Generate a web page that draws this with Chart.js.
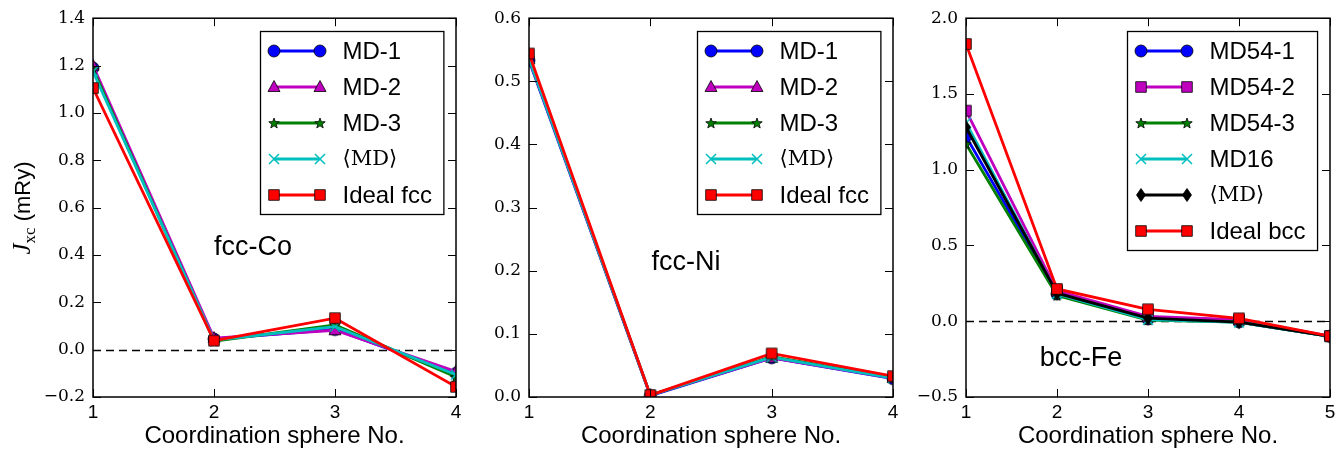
<!DOCTYPE html>
<html><head><meta charset="utf-8">
<script src="https://cdn.jsdelivr.net/npm/chart.js@4/dist/chart.umd.min.js"></script>
<style>
html,body{margin:0;padding:0;background:#fff;}
body{width:1341px;height:453px;position:relative;overflow:hidden;}
canvas{position:absolute;top:0;}
</style></head><body>
<canvas id="c1" width="470" height="453" style="left:0px;width:470px;height:453px"></canvas>
<canvas id="c2" width="450" height="453" style="left:460px;width:450px;height:453px"></canvas>
<canvas id="c3" width="441" height="453" style="left:900px;width:441px;height:453px"></canvas>
<script>
// ---------------- data ----------------
const spheresFcc = [1, 2, 3, 4];
const spheresBcc = [1, 2, 3, 4, 5];

const coMD1   = [1.190, 0.045, 0.085, -0.100];
const coMD2   = [1.200, 0.049, 0.082, -0.092];
const coMD3   = [1.185, 0.036, 0.104, -0.115];
const coMDavg = [1.175, 0.040, 0.097, -0.106];
const coIdeal = [1.105, 0.038, 0.133, -0.157];

const niMD1   = [0.533, 0.002, 0.062, 0.029];
const niMD2   = [0.535, 0.003, 0.062, 0.030];
const niMD3   = [0.537, 0.003, 0.064, 0.031];
const niMDavg = [0.536, 0.003, 0.063, 0.030];
const niIdeal = [0.544, 0.003, 0.069, 0.033];

const feMD54_1 = [1.220, 0.180, 0.015, -0.005, -0.100];
const feMD54_2 = [1.390, 0.200, 0.032, 0.010, -0.098];
const feMD54_3 = [1.170, 0.170, 0.008, -0.005, -0.100];
const feMD16   = [1.310, 0.180, 0.010, -0.008, -0.100];
const feMDavg  = [1.280, 0.185, 0.020, -0.006, -0.100];
const feIdeal  = [1.830, 0.213, 0.079, 0.019, -0.098];

const labelsFcc = ['MD-1', 'MD-2', 'MD-3', '\u27E8MD\u27E9', 'Ideal fcc'];
const labelsBcc = ['MD54-1', 'MD54-2', 'MD54-3', 'MD16', '\u27E8MD\u27E9', 'Ideal bcc'];

const xTicksFcc = [1, 2, 3, 4];
const xTicksBcc = [1, 2, 3, 4, 5];
const xTickLabelsFcc = ['1', '2', '3', '4'];
const xTickLabelsBcc = ['1', '2', '3', '4', '5'];

const yTicksCo = [-0.2, 0.0, 0.2, 0.4, 0.6, 0.8, 1.0, 1.2, 1.4];
const yTickLabelsCo = ['\u22120.2', '0.0', '0.2', '0.4', '0.6', '0.8', '1.0', '1.2', '1.4'];
const yTicksNi = [0.0, 0.1, 0.2, 0.3, 0.4, 0.5, 0.6];
const yTickLabelsNi = ['0.0', '0.1', '0.2', '0.3', '0.4', '0.5', '0.6'];
const yTicksFe = [-0.5, 0.0, 0.5, 1.0, 1.5, 2.0];
const yTickLabelsFe = ['\u22120.5', '0.0', '0.5', '1.0', '1.5', '2.0'];

const xTitle = 'Coordination sphere No.';

// ---------------- styles ----------------
const SANS = '"Liberation Sans", Arial, Helvetica, sans-serif';
const SERIF_TICK = '"DejaVu Serif", serif';
const C = {b:'#0000ff', m:'#bf00bf', g:'#008000', c:'#00bfbf', r:'#ff0000', k:'#000000'};

function makeMarker(shape, fill) {
  const S = 18, m = S / 2;
  const cv = document.createElement('canvas'); cv.width = S; cv.height = S;
  const g = cv.getContext('2d');
  g.fillStyle = fill; g.strokeStyle = '#000'; g.lineWidth = 0.8;
  g.beginPath();
  if (shape === 'circle') g.arc(m, m, 6, 0, 2 * Math.PI);
  else if (shape === 'triangle') { g.moveTo(m, m - 6.5); g.lineTo(m + 6, m + 4.5); g.lineTo(m - 6, m + 4.5); g.closePath(); }
  else if (shape === 'square') g.rect(m - 5.3, m - 5.3, 10.6, 10.6);
  else if (shape === 'diamond') { g.moveTo(m, m - 6.5); g.lineTo(m + 4.5, m); g.lineTo(m, m + 6.5); g.lineTo(m - 4.5, m); g.closePath(); }
  else if (shape === 'star') {
    for (let k = 0; k < 10; k++) {
      const r = k % 2 ? 2.3 : 5.5, a = -Math.PI / 2 + k * Math.PI / 5;
      const px = m + r * Math.cos(a), py = m + 0.5 + r * Math.sin(a);
      if (k) g.lineTo(px, py); else g.moveTo(px, py);
    }
    g.closePath();
  } else if (shape === 'x') {
    g.strokeStyle = fill; g.lineWidth = 1.5;
    g.moveTo(m - 5, m - 5); g.lineTo(m + 5, m + 5); g.moveTo(m + 5, m - 5); g.lineTo(m - 5, m + 5);
    g.stroke(); return cv;
  }
  g.fill(); g.stroke();
  return cv;
}

function series(label, xs, ys, color, shape, idx, n) {
  const img = makeMarker(shape, color);
  return {
    label, data: xs.map((x, i) => ({x, y: ys[i]})),
    borderColor: color, backgroundColor: color, borderWidth: 2.8,
    pointStyle: img, pointRadius: 6, pointHoverRadius: 6, pointBorderWidth: 0,
    tension: 0, fill: false, clip: 0, order: n - 1 - idx, _marker: img
  };
}

function makePlugin(cfg) {
  return {
    id: 'mplDecor',
    beforeDatasetsDraw(chart) {
      if (!cfg.zeroLine) return;
      const ctx = chart.ctx, a = chart.chartArea, y = Math.round(chart.scales.y.getPixelForValue(0)) + 0.5;
      ctx.save(); ctx.strokeStyle = '#000'; ctx.lineWidth = 1.4; ctx.setLineDash([8, 5]);
      ctx.beginPath(); ctx.moveTo(a.left, y); ctx.lineTo(a.right, y); ctx.stroke(); ctx.restore();
    },
    afterDatasetsDraw(chart) {
      const ctx = chart.ctx, a = chart.chartArea, xs = chart.scales.x, ys = chart.scales.y;
      ctx.save();
      ctx.strokeStyle = '#000'; ctx.lineWidth = 1;
      ctx.beginPath();
      xs.ticks.forEach(t => {
        const p = Math.round(xs.getPixelForValue(t.value)) + 0.5;
        ctx.moveTo(p, a.bottom); ctx.lineTo(p, a.bottom - 8);
        ctx.moveTo(p, a.top); ctx.lineTo(p, a.top + 8);
      });
      ys.ticks.forEach(t => {
        const p = Math.round(ys.getPixelForValue(t.value)) + 0.5;
        ctx.moveTo(a.left, p); ctx.lineTo(a.left + 8, p);
        ctx.moveTo(a.right, p); ctx.lineTo(a.right - 8, p);
      });
      ctx.stroke();
      ctx.lineWidth = 1.5;
      ctx.strokeRect(a.left, a.top, a.right - a.left, a.bottom - a.top);
      // annotation
      ctx.fillStyle = '#000'; ctx.font = '27px ' + SANS; ctx.textAlign = 'left'; ctx.textBaseline = 'middle';
      ctx.fillText(cfg.note.text, xs.getPixelForValue(cfg.note.x), ys.getPixelForValue(cfg.note.y));
      ctx.restore();
    },
    afterDraw(chart) {
      const ctx = chart.ctx, a = chart.chartArea, ds = chart.data.datasets;
      ctx.save();
      const fontFor = l => l.startsWith('\u27E8') ? '21px "DejaVu Serif", serif' : '24px ' + SANS;
      let maxW = 0;
      ds.forEach(d => { ctx.font = fontFor(d.label); maxW = Math.max(maxW, ctx.measureText(d.label).width); });
      const w = 82 + maxW + 12, h = 19 + 36 * (ds.length - 1) + 20;
      const left = Math.round(a.right - 12.5 - w) + 0.5, top = Math.round(a.top + 13) + 0.5;
      ctx.fillStyle = '#fff'; ctx.fillRect(left, top, w, h);
      ctx.strokeStyle = '#000'; ctx.lineWidth = 1.3; ctx.strokeRect(left, top, w, h);
      ds.forEach((d, i) => {
        const y = Math.round(top + 19 + 36 * i);
        const x0 = left + 13, x1 = left + 59;
        ctx.strokeStyle = d.borderColor; ctx.lineWidth = d.borderWidth; ctx.setLineDash([]);
        ctx.beginPath(); ctx.moveTo(x0, y); ctx.lineTo(x1, y); ctx.stroke();
        const img = d._marker;
        ctx.drawImage(img, Math.round(x0 - img.width / 2), y - img.height / 2);
        ctx.drawImage(img, Math.round(x1 - img.width / 2), y - img.height / 2);
        ctx.fillStyle = '#000'; ctx.font = fontFor(d.label); ctx.textAlign = 'left'; ctx.textBaseline = 'middle';
        ctx.fillText(d.label, left + 82, y + 1);
      });
      // y-axis title
      if (cfg.yTitle) {
        const parts = [
          {t: 'J', f: 'italic 25px "Liberation Serif", serif', dy: 0},
          {t: 'xc', f: '17px "Liberation Serif", serif', dy: 5},
          {t: ' (mRy)', f: '22px ' + SANS, dy: 0}
        ];
        let tot = 0;
        parts.forEach(p => { ctx.font = p.f; p.w = ctx.measureText(p.t).width; tot += p.w; });
        ctx.translate(30, 208); ctx.rotate(-Math.PI / 2);
        let x = -tot / 2;
        ctx.fillStyle = '#000'; ctx.textAlign = 'left'; ctx.textBaseline = 'alphabetic';
        parts.forEach(p => { ctx.font = p.f; ctx.fillText(p.t, x, p.dy); x += p.w; });
      }
      ctx.restore();
    }
  };
}

function build(id, cfg) {
  const yLabels = cfg.yLabels, xLabels = cfg.xLabels;
  return new Chart(document.getElementById(id), {
    type: 'line',
    data: {datasets: cfg.datasets},
    options: {
      responsive: false, animation: false, devicePixelRatio: 1,
      layout: {padding: {top: 17, right: cfg.padRight, bottom: 0, left: 0}},
      plugins: {legend: {display: false}, tooltip: {enabled: false}},
      events: [],
      scales: {
        x: {
          type: 'linear', min: cfg.xTicks[0], max: cfg.xTicks[cfg.xTicks.length - 1],
          afterBuildTicks: s => { s.ticks = cfg.xTicks.map(v => ({value: v})); },
          afterFit: s => { s.height = 56; },
          grid: {display: false, drawTicks: false}, border: {display: false},
          ticks: {color: '#000', font: {family: SANS, size: 19}, padding: 4,
                  callback: (v, i) => xLabels[i], maxRotation: 0, autoSkip: false},
          title: {display: true, text: xTitle, color: '#000', font: {family: SANS, size: 24}, padding: {top: 0, bottom: 2}}
        },
        y: {
          type: 'linear', min: cfg.yTicks[0], max: cfg.yTicks[cfg.yTicks.length - 1],
          afterBuildTicks: s => { s.ticks = cfg.yTicks.map(v => ({value: v})); },
          afterFit: s => { s.width = cfg.yWidth; },
          grid: {display: false, drawTicks: false}, border: {display: false},
          ticks: {color: '#000', font: {family: SERIF_TICK, size: 17}, padding: 8,
                  callback: (v, i) => yLabels[i], autoSkip: false}
        }
      }
    },
    plugins: [makePlugin(cfg)]
  });
}

const fccColors = [C.b, C.m, C.g, C.c, C.r];
const fccShapes = ['circle', 'triangle', 'star', 'x', 'square'];
const coSeries = [coMD1, coMD2, coMD3, coMDavg, coIdeal];
const niSeries = [niMD1, niMD2, niMD3, niMDavg, niIdeal];
const bccColors = [C.b, C.m, C.g, C.c, C.k, C.r];
const bccShapes = ['circle', 'square', 'star', 'x', 'diamond', 'square'];
const feSeries = [feMD54_1, feMD54_2, feMD54_3, feMD16, feMDavg, feIdeal];

build('c1', {
  datasets: coSeries.map((s, i) => series(labelsFcc[i], spheresFcc, s, fccColors[i], fccShapes[i], i, 5)),
  xTicks: xTicksFcc, xLabels: xTickLabelsFcc, yTicks: yTicksCo, yLabels: yTickLabelsCo,
  yWidth: 93, padRight: 14, zeroLine: true, yTitle: true,
  note: {text: 'fcc-Co', x: 2.0, y: 0.433}
});
build('c2', {
  datasets: niSeries.map((s, i) => series(labelsFcc[i], spheresFcc, s, fccColors[i], fccShapes[i], i, 5)),
  xTicks: xTicksFcc, xLabels: xTickLabelsFcc, yTicks: yTicksNi, yLabels: yTickLabelsNi,
  yWidth: 69, padRight: 17, zeroLine: false, yTitle: false,
  note: {text: 'fcc-Ni', x: 2.01, y: 0.213}
});
build('c3', {
  datasets: feSeries.map((s, i) => series(labelsBcc[i], spheresBcc, s, bccColors[i], bccShapes[i], i, 6)),
  xTicks: xTicksBcc, xLabels: xTickLabelsBcc, yTicks: yTicksFe, yLabels: yTickLabelsFe,
  yWidth: 66, padRight: 11, zeroLine: true, yTitle: false,
  note: {text: 'bcc-Fe', x: 1.81, y: -0.243}
});
</script>
</body></html>
